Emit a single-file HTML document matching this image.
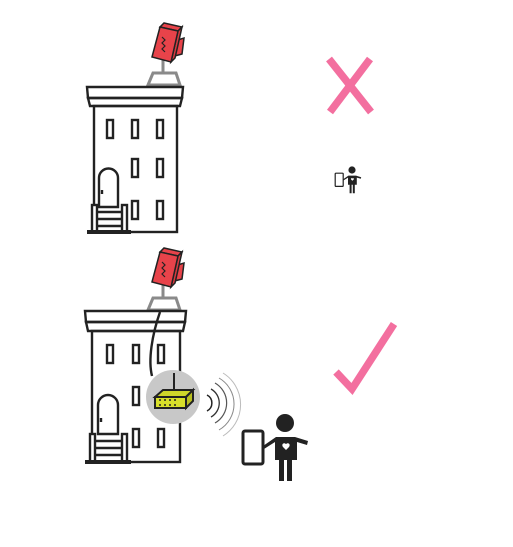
<!DOCTYPE html>
<html><head><meta charset="utf-8"><style>html,body{margin:0;padding:0;background:#fff}svg{display:block}</style></head>
<body>
<svg width="513" height="547" viewBox="0 0 513 547" xmlns="http://www.w3.org/2000/svg">
<defs>
<g id="cam">
  <line x1="163" y1="58" x2="163" y2="74" stroke="#8a8a8a" stroke-width="3"/>
  <polygon points="148,85 153,73 176,73 180,85" fill="none" stroke="#8a8a8a" stroke-width="3"/>
  <polygon points="171,42 184,38 182,54 171,57" fill="#e8434a" stroke="#222" stroke-width="1.5"/>
  <polygon points="160,27 164,23 182,27 178,31" fill="#e8434a" stroke="#222" stroke-width="1.5"/>
  <polygon points="178,31 182,27 175,58 171,62" fill="#d83a40" stroke="#222" stroke-width="1.5"/>
  <polygon points="152,57 160,27 178,31 171,62" fill="#e8434a" stroke="#222" stroke-width="1.5"/>
  <path d="M162,37 l3,3 -3,3 3,3 -3,3 3,3" fill="none" stroke="#222" stroke-width="1.2"/>
</g>
<g id="person">
  <rect x="243" y="431" width="20" height="33" rx="2" fill="#fff" stroke="#222" stroke-width="3"/>
  <circle cx="285" cy="423" r="9" fill="#222"/>
  <path d="M263,446 L276,437 L295,437 L308,441 L307,445 L297,442 L297,460 L292,460 L292,481 L287,481 L287,460 L284,460 L284,481 L279,481 L279,460 L275,460 L275,442 L264,449 Z" fill="#222"/>
  <path d="M286,444 c-2,-2 -5,0 -3,3 l3,3 3,-3 c2,-3 -1,-5 -3,-3z" fill="#fff"/>
</g>
</defs>

<g stroke="#222" stroke-width="2.4" fill="none">
  <use href="#cam"/>
  <path d="M87,87 L183,87 L182,98 L88,98 Z"/>
  <path d="M88,98 L182,98 L180,106 L90,106 Z"/>
  <rect x="94" y="106" width="83" height="126"/>
  <rect x="107" y="120" width="6" height="18"/><rect x="132" y="120" width="6" height="18"/><rect x="157" y="120" width="6" height="18"/>
  <rect x="132" y="159" width="6" height="18"/><rect x="157" y="159" width="6" height="18"/>
  <rect x="132" y="201" width="6" height="18"/><rect x="157" y="201" width="6" height="18"/>
  <path d="M99,207 L99,178 A9.5,9.5 0 0 1 118,178 L118,207 Z" fill="#fff"/>
  <line x1="102" y1="190" x2="102" y2="194"/>
  <rect x="92" y="205" width="5" height="27" fill="#fff"/><rect x="122" y="205" width="5" height="27" fill="#fff"/>
  <line x1="97" y1="212" x2="122" y2="212"/><line x1="97" y1="219" x2="122" y2="219"/><line x1="97" y1="226" x2="122" y2="226"/>
  <line x1="87" y1="232" x2="131" y2="232" stroke-width="4"/>
</g>

<g stroke="#222" stroke-width="2.4" fill="none">
  <use href="#cam" transform="translate(0,225)"/>
  <path d="M85,311 L186,311 L185,322 L86,322 Z"/>
  <path d="M86,322 L185,322 L183,331 L88,331 Z"/>
  <rect x="92" y="331" width="88" height="131"/>
  <rect x="107" y="345" width="6" height="18"/><rect x="133" y="345" width="6" height="18"/><rect x="158" y="345" width="6" height="18"/>
  <rect x="133" y="387" width="6" height="18"/>
  <rect x="133" y="429" width="6" height="18"/><rect x="158" y="429" width="6" height="18"/>
  <path d="M98,434 L98,405 A10,10 0 0 1 118,405 L118,434 Z" fill="#fff"/>
  <line x1="101" y1="418" x2="101" y2="422"/>
  <rect x="90" y="434" width="5" height="28" fill="#fff"/><rect x="122" y="434" width="5" height="28" fill="#fff"/>
  <line x1="95" y1="441" x2="122" y2="441"/><line x1="95" y1="448" x2="122" y2="448"/><line x1="95" y1="455" x2="122" y2="455"/>
  <line x1="85" y1="462" x2="131" y2="462" stroke-width="4"/>
  <path d="M160,312 C152,335 148,360 152,376"/>
</g>

<g>
  <circle cx="173" cy="397" r="27" fill="#c8c8c8"/>
  <line x1="174" y1="373" x2="174" y2="393" stroke="#222" stroke-width="2"/>
  <polygon points="155,397 163,390 193,390 186,397" fill="#cfd62a" stroke="#222" stroke-width="2"/>
  <polygon points="186,397 193,390 193,401 186,408" fill="#b8be20" stroke="#222" stroke-width="2"/>
  <rect x="155" y="397" width="31" height="11" fill="#d8df2a" stroke="#222" stroke-width="2"/>
  <g fill="#222"><circle cx="160" cy="400" r="1"/><circle cx="165" cy="400" r="1"/><circle cx="170" cy="400" r="1"/><circle cx="175" cy="400" r="1"/><circle cx="160" cy="405" r="1"/><circle cx="165" cy="405" r="1"/><circle cx="170" cy="405" r="1"/><circle cx="175" cy="405" r="1"/></g>
</g>

<g fill="none">
  <path d="M207,395 A9,9 0 0 1 207,411" stroke="#222" stroke-width="1.5"/>
  <path d="M211,389 A16,16 0 0 1 211,417" stroke="#333" stroke-width="1.3"/>
  <path d="M215,383 A23,23 0 0 1 215,423" stroke="#555" stroke-width="1.2"/>
  <path d="M219,378 A30,30 0 0 1 219,430" stroke="#888" stroke-width="1"/>
  <path d="M223,373 A37,37 0 0 1 223,436" stroke="#bbb" stroke-width="1"/>
</g>

<use href="#person"/>
<use href="#person" transform="translate(238,0.8) scale(0.4)"/>

<g stroke="#f36f9f" stroke-width="7.5">
  <line x1="329" y1="59" x2="371" y2="112"/><line x1="370" y1="59" x2="330" y2="112"/>
</g>
<polyline points="336,372 352,389 394,324" fill="none" stroke="#f36f9f" stroke-width="7.5"/>
</svg>
</body></html>
